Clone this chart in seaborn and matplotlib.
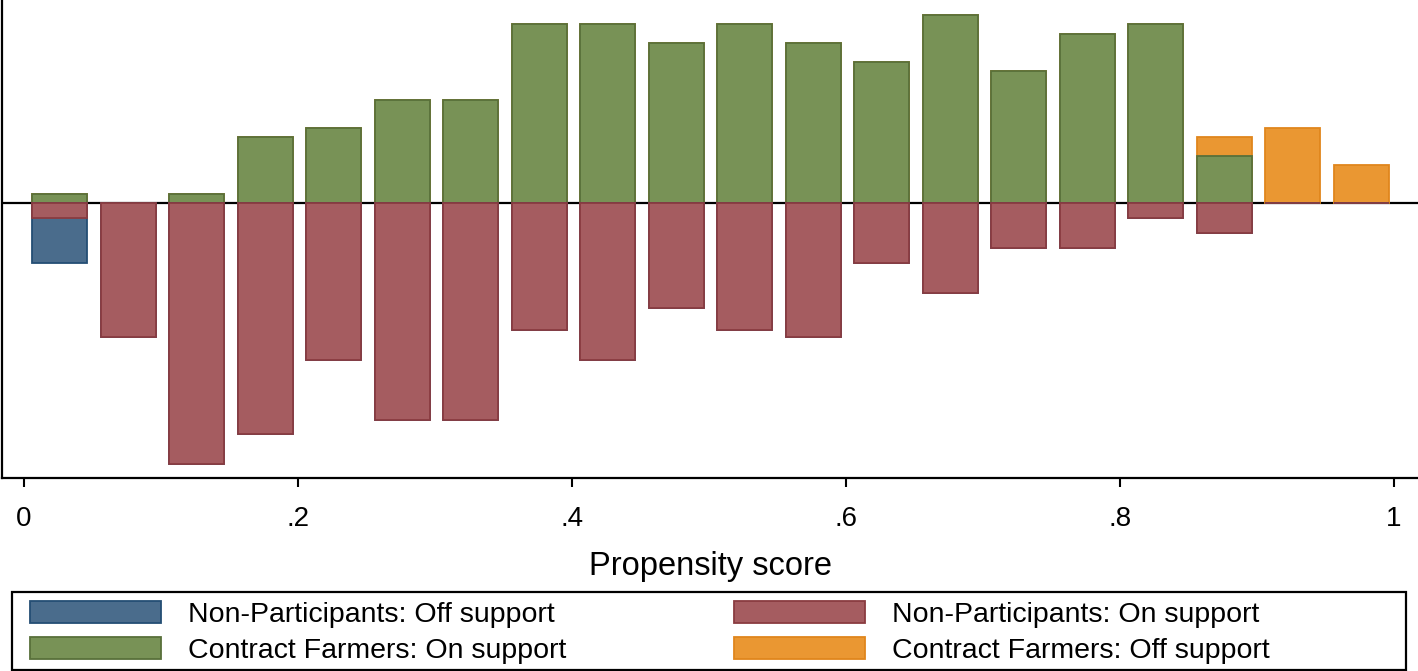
import numpy as np
import pandas as pd
import seaborn as sns
import matplotlib.pyplot as plt
from matplotlib.patches import Patch, Rectangle

# propensity score bins (width .05) and counts per bin
bin_edges = [0.001, 0.051, 0.101, 0.151, 0.201, 0.251, 0.301, 0.351, 0.401, 0.451,
             0.501, 0.551, 0.601, 0.651, 0.701, 0.751, 0.801, 0.851, 0.901, 0.951, 1.001]
contract_on = [1, 0, 1, 7, 8, 11, 11, 19, 19, 17, 19, 17, 15, 20, 14, 18, 19, 5, 0, 0]
contract_off = [0, 0, 0, 0, 0, 0, 0, 0, 0, 0, 0, 0, 0, 0, 0, 0, 0, 2, 8, 4]
nonpart_on = [2, 18, 35, 31, 21, 29, 29, 17, 21, 14, 17, 18, 8, 12, 6, 6, 2, 4, 0, 0]
nonpart_off = [6, 0, 0, 0, 0, 0, 0, 0, 0, 0, 0, 0, 0, 0, 0, 0, 0, 0, 0, 0]

tick_pos = [0, 0.2, 0.4, 0.6, 0.8, 1]
tick_labels = ['0', '.2', '.4', '.6', '.8', '1']

colors = {
    'Non-Participants: Off support': ('#4A6C8C', '#244E74'),
    'Non-Participants: On support': ('#A55C60', '#8A3B40'),
    'Contract Farmers: On support': ('#789256', '#58703A'),
    'Contract Farmers: Off support': ('#EA9732', '#E0861C'),
}

sns.set_theme(style="ticks")
plt.rcParams['font.family'] = ['Liberation Sans', 'DejaVu Sans']
plt.rcParams['text.color'] = 'black'
plt.rcParams['axes.labelcolor'] = 'black'
plt.rcParams['xtick.color'] = 'black'

edges = np.array(bin_edges)
mids = (edges[:-1] + edges[1:]) / 2
bw = edges[1] - edges[0]

n_contract = sum(contract_on) + sum(contract_off)
n_non = sum(nonpart_on) + sum(nonpart_off)

df = pd.DataFrame({
    'pscore': mids,
    'contract_on': np.array(contract_on) / (n_contract * bw),
    'contract_off': np.array(contract_off) / (n_contract * bw),
    'nonpart_on': -np.array(nonpart_on) / (n_non * bw),
    'nonpart_off': -np.array(nonpart_off) / (n_non * bw),
})
# stacked totals: draw the outer layer first, the inner one on top of it
df['contract_all'] = df['contract_on'] + df['contract_off']
df['nonpart_all'] = df['nonpart_on'] + df['nonpart_off']

fig = plt.figure(figsize=(14.18, 6.71), dpi=100)
ax = fig.add_axes([0.0015, 0.2876, 0.9985, 0.7124])

ax.axhline(0, color='black', lw=1.6, zorder=1)

layers = [
    ('contract_all', 'Contract Farmers: Off support'),
    ('contract_on', 'Contract Farmers: On support'),
    ('nonpart_all', 'Non-Participants: Off support'),
    ('nonpart_on', 'Non-Participants: On support'),
]
for col, name in layers:
    sub = df[df[col] != 0]
    fc, ec = colors[name]
    sns.histplot(data=sub, x='pscore', weights=col, bins=bin_edges, shrink=0.8,
                 color=fc, edgecolor=ec, linewidth=1.3, alpha=1, ax=ax, zorder=2)

ax.set_xlim(-0.016, 1.0175)
ax.set_ylim(-2.489, 1.837)
ax.set_yticks([])
ax.set_ylabel('')
ax.set_xticks(tick_pos)
ax.set_xticklabels(tick_labels)
ax.tick_params(axis='x', labelsize=20, length=6.5, width=1.5, pad=13.5, color='black', labelcolor='black')
ax.set_xlabel('Propensity score', fontsize=23.5, labelpad=14, color='black')
for s in ['top', 'right']:
    ax.spines[s].set_visible(False)
for s in ['left', 'bottom']:
    ax.spines[s].set_color('black')
    ax.spines[s].set_linewidth(1.6)

order = ['Non-Participants: Off support', 'Contract Farmers: On support',
         'Non-Participants: On support', 'Contract Farmers: Off support']
handles = [Patch(facecolor=colors[k][0], edgecolor=colors[k][1], linewidth=1.3, label=k) for k in order]
fig.legend(handles=handles, ncol=2, loc='upper left', bbox_to_anchor=(30 / 1418, 1 - 601 / 671),
           frameon=False, fontsize=20.5, handlelength=4.6, handleheight=0.83,
           handletextpad=0.95, columnspacing=5.9, labelspacing=0.3,
           borderpad=0, borderaxespad=0, labelcolor='black')
fig.patches.append(Rectangle((12 / 1418, 1 / 671), 1394 / 1418, 78 / 671, transform=fig.transFigure,
                             fill=False, edgecolor='black', linewidth=1.6))

plt.savefig('out.png', dpi=100)
plt.close()
